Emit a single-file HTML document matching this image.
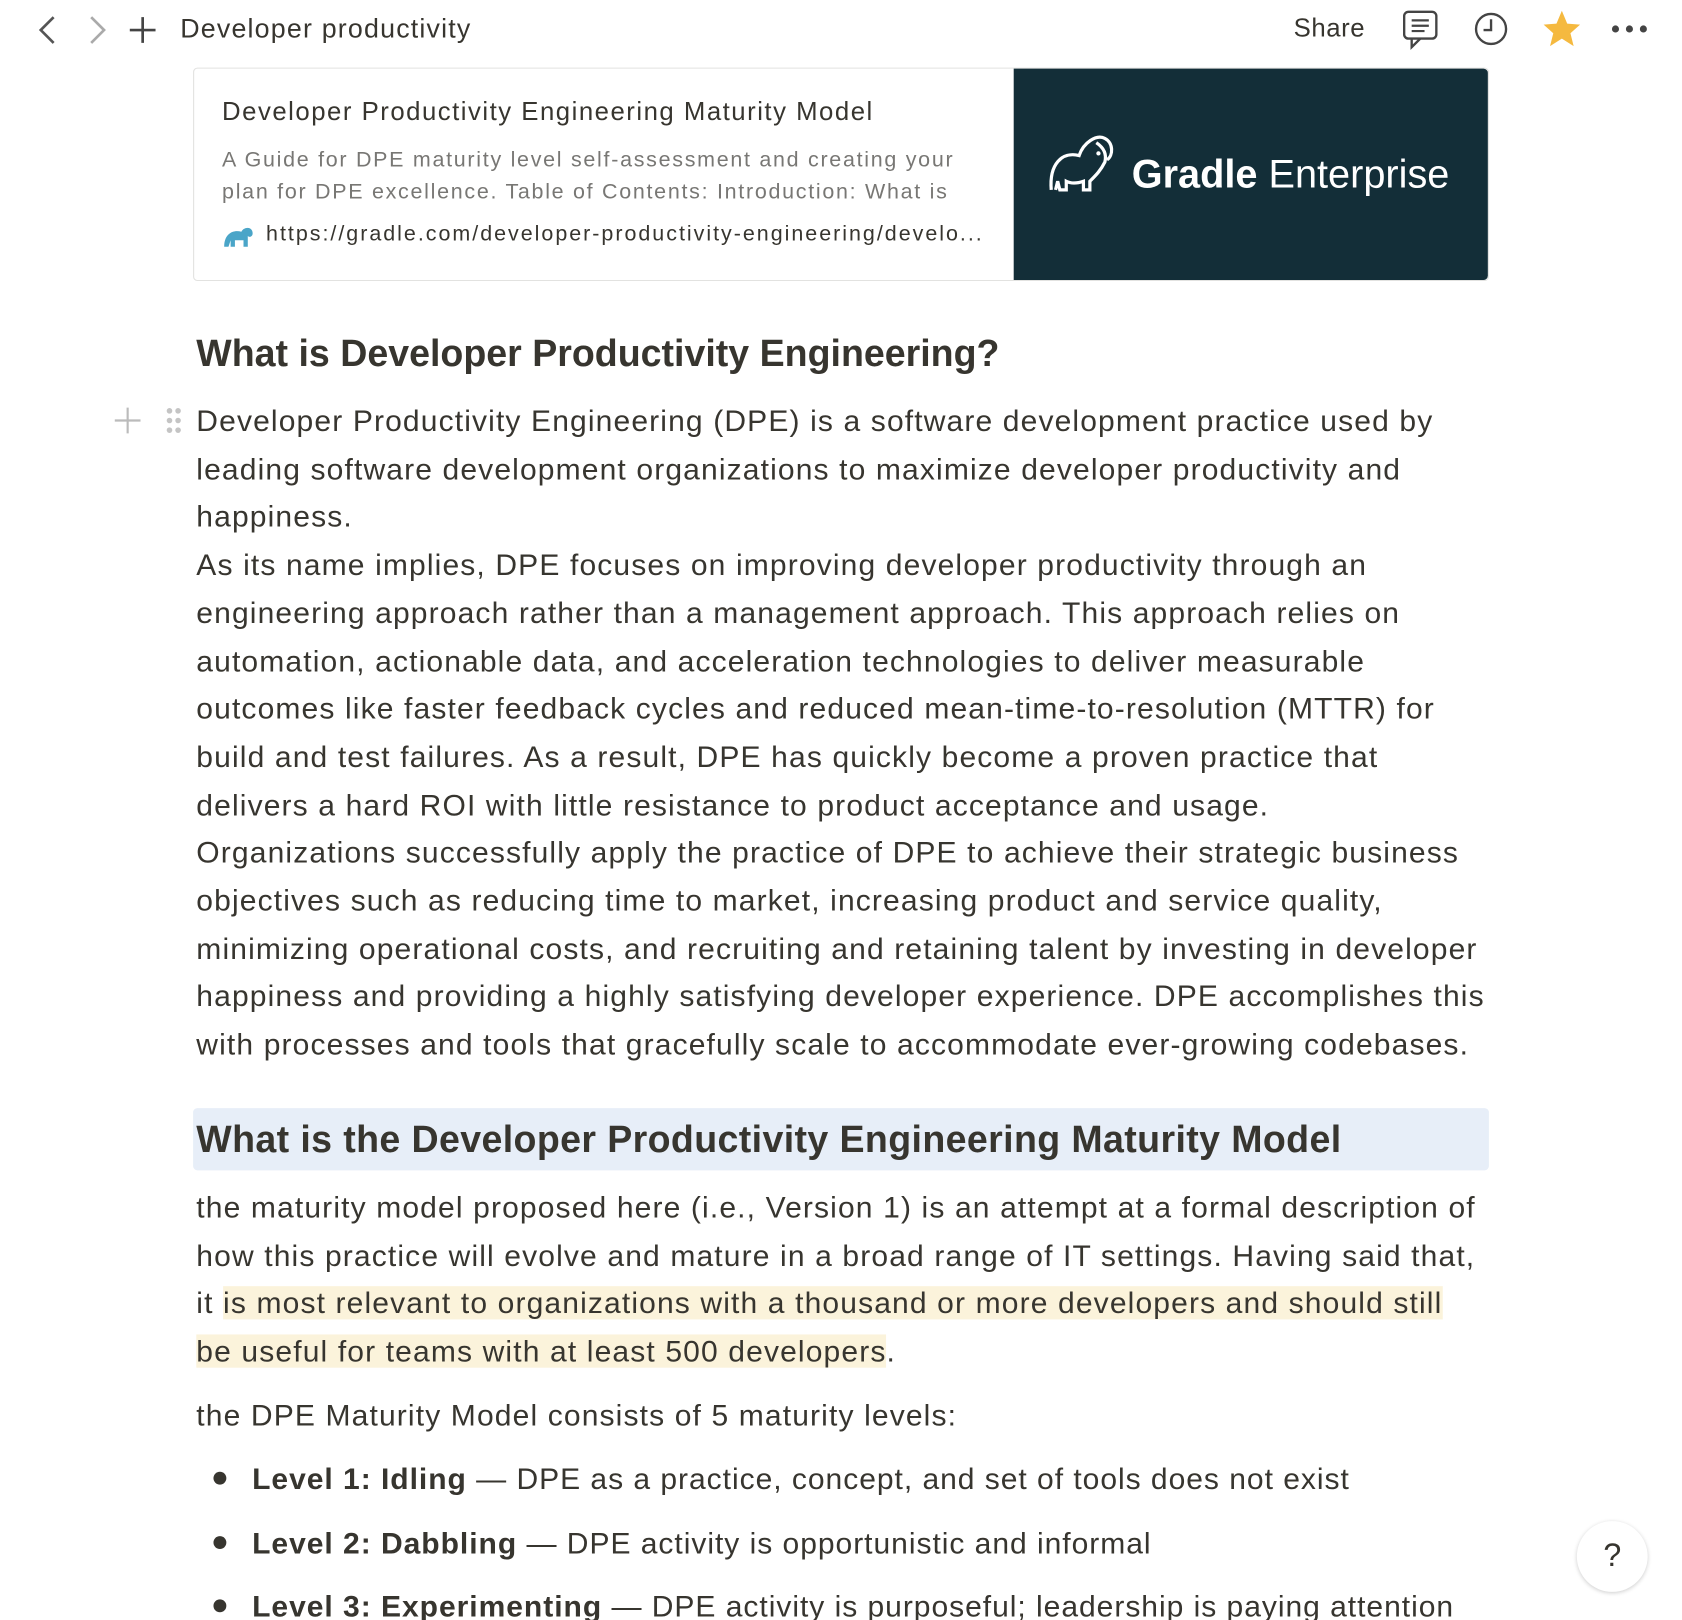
<!DOCTYPE html>
<html><head><meta charset="utf-8"><style>
html,body{margin:0;padding:0;background:#fff;overflow:hidden}
body{width:1682px;height:1620px;position:relative}
#w{position:absolute;left:0;top:0;width:1568px;height:1510px;transform:scale(1.0727);transform-origin:0 0;font-family:"Liberation Sans",sans-serif;color:#37352f}
.a{position:absolute;white-space:nowrap}
.p{position:absolute;left:183px;font-size:28px;line-height:44.7px;white-space:nowrap;letter-spacing:1.05px}
.h{position:absolute;left:183px;font-size:35px;font-weight:bold;white-space:nowrap}
.hl{background:#fbf3db}
</style></head><body><div id="w">
<svg class="a" style="left:30px;top:12px" width="130" height="32"><path d="M20 4 L8 16 L20 28" fill="none" stroke="#555" stroke-width="2.5"/><path d="M55 4 L67 16 L55 28" fill="none" stroke="#aaa" stroke-width="2.5"/><path d="M103 4V28M91 16H115" stroke="#444" stroke-width="2.5"/></svg>
<div class="a" style="left:168px;top:13px;font-size:25px;letter-spacing:1.1px">Developer productivity</div>
<div class="a" style="left:1206px;top:13px;font-size:24px;letter-spacing:0.5px">Share</div>
<svg class="a" style="left:1306px;top:8px" width="240" height="40"><rect x="3" y="3" width="30" height="25" rx="4" fill="none" stroke="#444" stroke-width="2.2"/><path d="M10 28 L10 36 L18 28" fill="none" stroke="#444" stroke-width="2.2"/><path d="M10 11H26M10 16H26M10 21H22" stroke="#444" stroke-width="2"/><circle cx="84" cy="19" r="14" fill="none" stroke="#444" stroke-width="2.2"/><path d="M84 10V20H77" fill="none" stroke="#444" stroke-width="2.2"/><polygon points="150,2 155,14 167,15 158,23 161,35 150,28 139,35 142,23 133,15 145,14" fill="#f5b93f"/><circle cx="200" cy="19" r="3.3" fill="#444"/><circle cx="213" cy="19" r="3.3" fill="#444"/><circle cx="226" cy="19" r="3.3" fill="#444"/></svg>
<div class="a" style="left:180px;top:63px;width:1206px;height:197px;border:1px solid #e2e2e0;border-radius:4px"></div>
<div class="a" style="left:945px;top:64px;width:442px;height:197px;background:#132e38;border-radius:0 4px 4px 0"></div>
<div class="a" style="left:207px;top:91px;font-size:24px;letter-spacing:1.4px">Developer Productivity Engineering Maturity Model</div>
<div class="a" style="left:207px;top:134px;font-size:20px;line-height:30px;color:#787774;letter-spacing:1.6px">A Guide for DPE maturity level self-assessment and creating your<br>plan for DPE excellence. Table of Contents: Introduction: What is</div>
<svg class="a" style="left:207px;top:208px" width="30" height="24"><path d="M2 22 C2 10 10 6 18 8 C20 4 26 3 28 7 C30 12 26 14 24 12 L24 22 L20 22 L20 16 L12 16 L12 22 L8 22 L8 16 L6 22Z" fill="#4aa5c8"/></svg>
<div class="a" style="left:248px;top:207px;font-size:20px;letter-spacing:1.85px">https://gradle.com/developer-productivity-engineering/develo...</div>
<svg class="a" style="left:976px;top:123px" width="80" height="60"><path d="M4 54 C2 30 14 18 30 22 C34 10 46 2 54 6 C62 10 62 22 56 26 M46 10 C52 14 56 20 54 28 C50 36 46 40 40 46 L40 54 L34 54 L34 46 C28 48 22 48 18 46 L18 54 L12 54 L10 46 L8 54" fill="none" stroke="#fff" stroke-width="3"/><circle cx="48" cy="20" r="2" fill="#fff"/></svg>
<div class="a" style="left:1055px;top:142px;font-size:37px;color:#fff"><b>Gradle</b> Enterprise</div>
<div class="h" style="top:310px">What is Developer Productivity Engineering?</div>
<svg class="a" style="left:105px;top:378px" width="70" height="30"><path d="M14 2V26M2 14H26" stroke="#bbb" stroke-width="2"/><g fill="#c4c4c4"><circle cx="53" cy="5" r="2.6"/><circle cx="61" cy="5" r="2.6"/><circle cx="53" cy="14" r="2.6"/><circle cx="61" cy="14" r="2.6"/><circle cx="53" cy="23" r="2.6"/><circle cx="61" cy="23" r="2.6"/></g></svg>
<div class="p" style="top:371px">Developer Productivity Engineering (DPE) is a software development practice used by<br>leading software development organizations to maximize developer productivity and<br>happiness.<br>As its name implies, DPE focuses on improving developer productivity through an<br>engineering approach rather than a management approach. This approach relies on<br>automation, actionable data, and acceleration technologies to deliver measurable<br>outcomes like faster feedback cycles and reduced mean-time-to-resolution (MTTR) for<br>build and test failures. As a result, DPE has quickly become a proven practice that<br>delivers a hard ROI with little resistance to product acceptance and usage.<br>Organizations successfully apply the practice of DPE to achieve their strategic business<br>objectives such as reducing time to market, increasing product and service quality,<br>minimizing operational costs, and recruiting and retaining talent by investing in developer<br>happiness and providing a highly satisfying developer experience. DPE accomplishes this<br>with processes and tools that gracefully scale to accommodate ever-growing codebases.</div>
<div class="a" style="left:180px;top:1033px;width:1208px;height:58px;background:#e7eef8;border-radius:4px"></div>
<div class="h" style="top:1043px;letter-spacing:0.35px">What is the Developer Productivity Engineering Maturity Model</div>
<div class="p" style="top:1104px">the maturity model proposed here (i.e., Version 1) is an attempt at a formal description of<br>how this practice will evolve and mature in a broad range of IT settings. Having said that,<br>it <span class="hl">is most relevant to organizations with a thousand or more developers and should still</span><br><span class="hl">be useful for teams with at least 500 developers</span>.</div>
<div class="p" style="top:1298px">the DPE Maturity Model consists of 5 maturity levels:</div>
<div class="a" style="left:199px;top:1372px;width:12px;height:12px;border-radius:6px;background:#37352f"></div>
<div class="a" style="left:199px;top:1432px;width:12px;height:12px;border-radius:6px;background:#37352f"></div>
<div class="a" style="left:199px;top:1491px;width:12px;height:12px;border-radius:6px;background:#37352f"></div>
<div class="p" style="left:235px;top:1357px;letter-spacing:0.9px"><b>Level 1: Idling</b> — DPE as a practice, concept, and set of tools does not exist</div>
<div class="p" style="left:235px;top:1417px;letter-spacing:0.9px"><b>Level 2: Dabbling</b> — DPE activity is opportunistic and informal</div>
<div class="p" style="left:235px;top:1476px;letter-spacing:0.9px"><b>Level 3: Experimenting</b> — DPE activity is purposeful; leadership is paying attention</div>
<div class="a" style="left:1470px;top:1418px;width:66px;height:66px;border-radius:50%;background:#fff;box-shadow:0 1px 4px rgba(0,0,0,.2);font-size:30px;text-align:center;line-height:66px">?</div>
</div></body></html>
